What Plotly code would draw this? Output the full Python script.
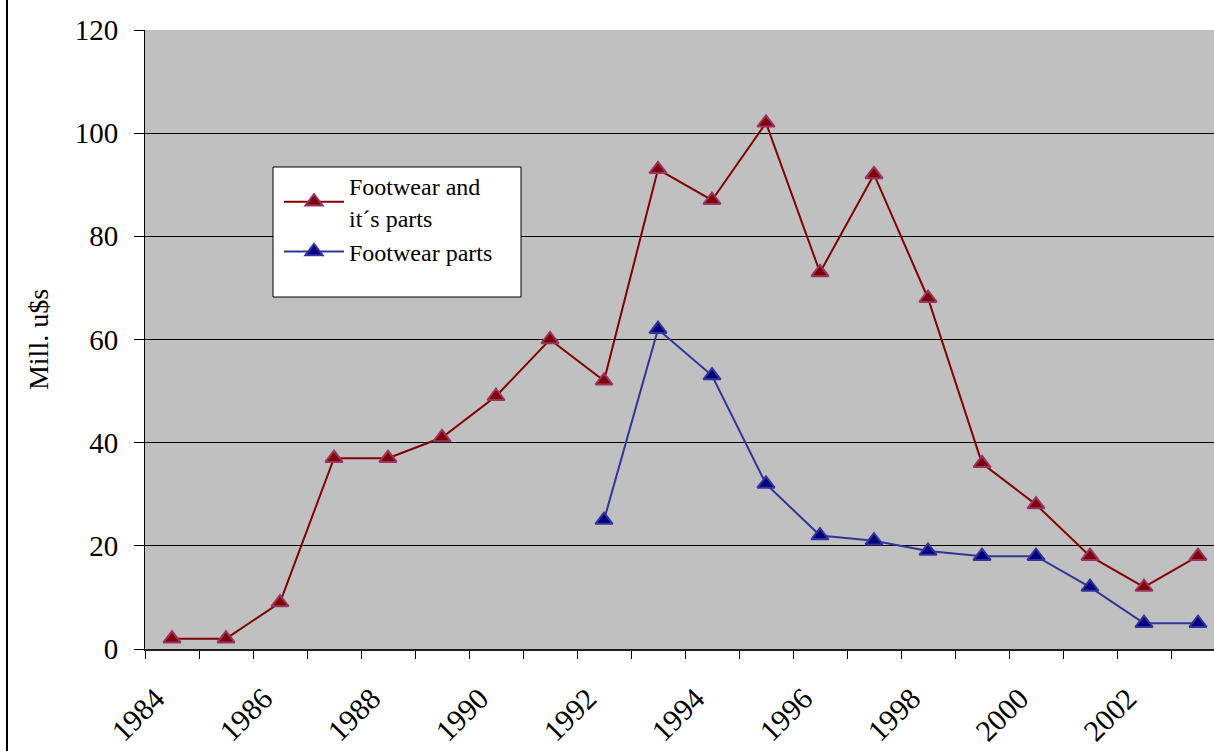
import plotly.graph_objects as go

years = list(range(1984, 2004))
footwear_total = [2, 2, 9, 37, 37, 41, 49, 60, 52, 93, 87, 102, 73, 92, 68, 36, 28, 18, 12, 18]
parts_years = list(range(1992, 2004))
footwear_parts = [25, 62, 53, 32, 22, 21, 19, 18, 18, 12, 5, 5]
label_years = [y for y in years if y % 2 == 0]

FONT = "Liberation Serif"

W, H = 1214, 751
PL, PR, PT, PB = 145, 1214, 30, 649
PW, PH = PR - PL, PB - PT


def px(xp):
    return (xp - PL) / PW


def py(yp):
    return (PB - yp) / PH


fig = go.Figure()
fig.add_trace(go.Scatter(
    x=years, y=footwear_total, mode="lines+markers",
    name="Footwear and<br>it´s parts",
    line=dict(color="#800000", width=2),
    marker=dict(symbol="triangle-up", size=15, color="#800000",
                line=dict(color="#993366", width=2)),
))
fig.add_trace(go.Scatter(
    x=parts_years, y=footwear_parts, mode="lines+markers",
    name="Footwear parts",
    line=dict(color="#333399", width=2),
    marker=dict(symbol="triangle-up", size=15, color="#000080",
                line=dict(color="#333399", width=2)),
))

px_per_year = 54.0
x_lo = years[0] - 0.5
x_hi = x_lo + PW / px_per_year

fig.update_layout(
    width=W, height=H,
    margin=dict(l=PL, r=W - PR, t=PT, b=H - PB, autoexpand=False),
    paper_bgcolor="white", plot_bgcolor="#C0C0C0",
    font=dict(family=FONT, size=24, color="black"),
    showlegend=True,
    legend=dict(x=px(279), y=py(164), xanchor="left", yanchor="top",
                bgcolor="rgba(0,0,0,0)", borderwidth=0,
                font=dict(family=FONT, size=24, color="black"),
                itemwidth=60, tracegroupgap=0),
    xaxis=dict(
        range=[x_lo, x_hi], showgrid=False, zeroline=False, automargin=False,
        showline=True, linecolor="#202020", linewidth=2,
        tickmode="array", tickvals=[y - 0.3 for y in label_years],
        ticktext=[str(y) for y in label_years],
        tickangle=-45, ticks="outside", ticklen=18, tickcolor="rgba(0,0,0,0)",
        tickfont=dict(family=FONT, size=30, color="black"),
        minor=dict(tickmode="array", tickvals=[y - 0.5 for y in years] + [years[-1] + 0.5],
                   ticks="outside", ticklen=8, tickcolor="black", tickwidth=1, showgrid=False),
    ),
    yaxis=dict(
        range=[0, 120], dtick=20, tick0=0, automargin=False,
        showgrid=True, gridcolor="black", gridwidth=1, zeroline=False,
        showline=True, linecolor="black", linewidth=1,
        ticks="outside", ticklen=10, tickcolor="black",
        tickfont=dict(family=FONT, size=29, color="black"),
        ticklabelstandoff=10,
        title=dict(text="Mill. u$s", font=dict(family=FONT, size=28, color="black"), standoff=17),
    ),
)

# legend box (Excel-style, with blank space below entries)
fig.add_shape(type="rect", xref="paper", yref="paper",
              x0=px(273), x1=px(521), y0=py(297), y1=py(167),
              fillcolor="white", line=dict(color="black", width=1), layer="above")

# outer chart border on the left
fig.add_shape(type="line", xref="paper", yref="paper",
              x0=px(7), x1=px(7), y0=py(H), y1=py(0),
              line=dict(color="black", width=2))

fig.write_html("out.html")
